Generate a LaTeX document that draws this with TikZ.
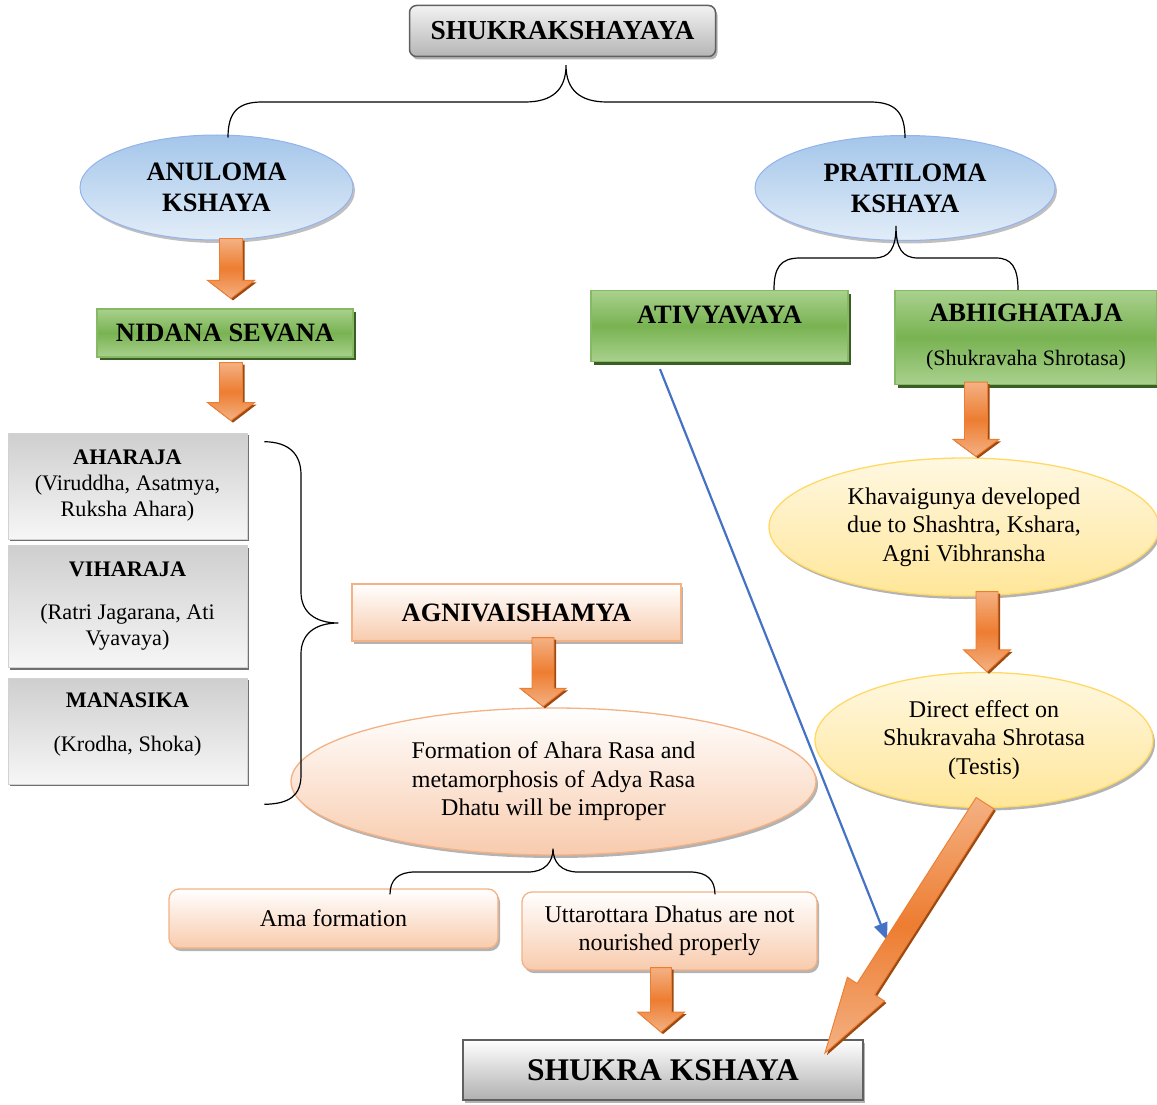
\documentclass[tikz,border=0pt]{standalone}
\usepackage{fontspec}
\setmainfont{Liberation Serif}
\usetikzlibrary{calc,shapes.geometric,shadows,arrows.meta}
\definecolor{orD}{HTML}{ED7D31}
\definecolor{orL}{HTML}{F4B183}
\definecolor{orS}{HTML}{9C4A12}
\definecolor{peach}{HTML}{F8CBAD}
\definecolor{peachB}{HTML}{F4B183}
\definecolor{gD}{HTML}{70AD47}
\definecolor{gL}{HTML}{A9D18E}
\definecolor{gS}{HTML}{3B5E25}
\definecolor{bL}{HTML}{E2EDF8}
\definecolor{bD}{HTML}{A4C6EA}
\definecolor{yL}{HTML}{FFF8E1}
\definecolor{yD}{HTML}{FFE699}
\definecolor{yB}{HTML}{FFD966}
\definecolor{blueA}{HTML}{4472C4}
\newcommand\hdrfont{\fontsize{26.5}{31}\selectfont\bfseries}
\newcommand\txtfont{\fontsize{24}{28.5}\selectfont}
\newcommand\sidefont{\fontsize{22.2}{26}\selectfont}
\newcommand\blockarr[5]{%
  \coordinate (ba-h) at ($(#2)!#5!(#1)$);
  \path[barrow] ($(#1)!#3!90:(#2)$) -- ($(ba-h)!#3!90:(#2)$) -- ($(ba-h)!#4!90:(#2)$)
     -- (#2) -- ($(ba-h)!#4!-90:(#2)$) -- ($(ba-h)!#3!-90:(#2)$) -- ($(#1)!#3!-90:(#2)$) -- cycle;
}
\begin{document}
\begin{tikzpicture}[x=1pt,y=-1pt,
  every node/.style={inner sep=0pt, align=center, text=black},
  graybox/.style={rectangle, rounded corners=7pt, draw=gray!75!black, line width=1.5pt,
     top color=gray!10, bottom color=gray!58,
     drop shadow={shadow xshift=2pt,shadow yshift=-3pt,fill=gray,opacity=.6}},
  skbox/.style={rectangle, draw=gray!75!black, line width=1.8pt,
     top color=white, bottom color=gray!62,
     drop shadow={shadow xshift=2pt,shadow yshift=-3pt,fill=gray,opacity=.6}},
  blueell/.style={ellipse, draw=bD!90!blue, line width=1pt, top color=bD, bottom color=bL,
     drop shadow={shadow xshift=2pt,shadow yshift=-3pt,fill=gray,opacity=.5}},
  greenbox/.style={rectangle, draw=gD!85!white, line width=1.2pt,
     top color=gL, bottom color=gL, middle color=gD!85!gL,
     drop shadow={shadow xshift=3pt,shadow yshift=-3pt,fill=gS,opacity=1}},
  sidebox/.style={rectangle, draw=gray!35, line width=.6pt, top color=gray!38, bottom color=gray!7,
     drop shadow={shadow xshift=2pt,shadow yshift=-2pt,fill=gray!60!black,opacity=.8}},
  peachbox/.style={rectangle, draw=peachB, line width=1.3pt, top color=white, bottom color=peach,
     drop shadow={shadow xshift=2pt,shadow yshift=-3pt,fill=gray,opacity=.6}},
  peachell/.style={ellipse, draw=peachB, line width=1.3pt, top color=white, bottom color=peach,
     drop shadow={shadow xshift=2pt,shadow yshift=-3pt,fill=gray,opacity=.6}},
  yell/.style={ellipse, draw=yB, line width=1.3pt, top color=yL, bottom color=yD,
     drop shadow={shadow xshift=2pt,shadow yshift=-3pt,fill=gray,opacity=.6}},
  barrow/.style={draw=orD, line width=.9pt, top color=orL, bottom color=orL, middle color=orD,
     drop shadow={shadow xshift=2pt,shadow yshift=-2pt,fill=orS,opacity=1}},
  brace/.style={draw=black, line width=1.2pt},
  bluearr/.style={draw=blueA, line width=2.2pt, -{Triangle[length=17pt,width=14pt]}}
]
\useasboundingbox (0,0) rectangle (1157,1105);

% nodes
\node[graybox, minimum width=306pt, minimum height=51pt, font=\fontsize{27.4}{30}\selectfont\bfseries] (top) at (562.5,31) {SHUKRAKSHAYAYA};
\node[blueell, minimum width=273pt, minimum height=105pt, font=\hdrfont] (anul) at (216.5,187.5) {ANULOMA\\KSHAYA};
\node[blueell, minimum width=300pt, minimum height=105pt, font=\hdrfont] (prat) at (905,188) {PRATILOMA\\KSHAYA};
\node[greenbox, minimum width=256pt, minimum height=48pt, font=\hdrfont] (nid) at (225,333) {NIDANA SEVANA};
\node[greenbox, minimum width=257pt, text height=33pt, text depth=38pt, font=\hdrfont] (ativ) at (719.5,326) {ATIVYAVAYA};
\node[greenbox, minimum width=262pt, minimum height=94pt, font=\fontsize{22}{25}\selectfont] (abhi) at (1026,337.5)
   {{\hdrfont ABHIGHATAJA}\\[19pt](Shukravaha Shrotasa)};
\node[sidebox, minimum width=239pt, minimum height=106pt, font=\sidefont] (ahar) at (127.5,486)
   {\textbf{AHARAJA}\\(Viruddha, Asatmya,\\Ruksha Ahara)};
\node[sidebox, minimum width=239pt, minimum height=122pt, font=\sidefont] (vihar) at (127.5,606.5)
   {\textbf{VIHARAJA}\\[17pt](Ratri Jagarana, Ati\\Vyavaya)};
\node[sidebox, minimum width=239pt, minimum height=106pt, font=\sidefont] (manas) at (127.5,731)
   {\textbf{MANASIKA}\\[18pt](Krodha, Shoka)\\[-8pt]\mbox{}};
\node[peachbox, minimum width=329pt, minimum height=57pt, font=\hdrfont] (agni) at (516.5,612.5) {AGNIVAISHAMYA};
\node[peachell, minimum width=525pt, minimum height=147pt, font=\txtfont] (form) at (553.5,781.5)
   {Formation of Ahara Rasa and\\metamorphosis of Adya Rasa\\Dhatu will be improper};
\node[peachbox, rounded corners=10pt, minimum width=329pt, minimum height=59pt, font=\txtfont] (ama) at (333.5,918.5) {Ama formation};
\node[peachbox, rounded corners=10pt, minimum width=295pt, minimum height=78pt, font=\txtfont] (utt) at (669.5,931)
   {Uttarottara Dhatus are not\\nourished properly};
\node[skbox, minimum width=400pt, minimum height=60pt, font=\fontsize{31.5}{34}\selectfont\bfseries] (sk) at (663,1070) {SHUKRA KSHAYA};
\node[yell, minimum width=390pt, minimum height=138pt, font=\txtfont] (khav) at (964,527)
   {Khavaigunya developed\\due to Shashtra, Kshara,\\Agni Vibhransha};
\node[yell, minimum width=338pt, minimum height=135pt, font=\txtfont] (dir) at (984,740)
   {Direct effect on\\Shukravaha Shrotasa\\(Testis)};

% connector end points
\coordinate (a1s) at ($(anul.south)+(14.5,-2)$);
\coordinate (a1e) at ($(nid.north)+(6,-10)$);
\coordinate (a2s) at ($(nid.south)+(6,5)$);
\coordinate (a2e) at ($(nid.south)+(6,63)$);
\coordinate (a3s) at ($(agni.south)+(26.5,-4)$);
\coordinate (a3e) at ($(form.north)+(-10.5,-1)$);
\coordinate (a4s) at ($(utt.south)+(-8.5,-3)$);
\coordinate (a4e) at ($(sk.north)+(-2,-7)$);
\coordinate (a5s) at ($(abhi.south)+(-50,-3)$);
\coordinate (a5e) at ($(khav.north)+(12,-1)$);
\coordinate (a6s) at ($(khav.south)+(23,-5)$);
\coordinate (a6e) at ($(dir.north)+(3,0)$);
\coordinate (dgs) at ($(dir.south)+(1,-5)$);
\coordinate (dge) at ($(sk.north east)+(-39,14)$);
\coordinate (bls) at ($(ativ.south)+(-59.5,7)$);
\coordinate (ble) at (887,940);

% blue arrow
\draw[bluearr] (bls) -- (ble);

% orange block arrows
\blockarr{a1s}{a1e}{11.5pt}{23.5pt}{18pt}
\blockarr{a2s}{a2e}{11.5pt}{23.5pt}{18pt}
\blockarr{a3s}{a3e}{11pt}{23pt}{18pt}
\blockarr{a4s}{a4e}{10.5pt}{23.5pt}{20pt}
\blockarr{a5s}{a5e}{11.5pt}{23pt}{17pt}
\blockarr{a6s}{a6e}{11pt}{23.5pt}{22pt}
\blockarr{dgs}{dge}{10.5pt}{22pt}{76pt}

% braces
\path[brace] ($(anul.north)+(11.5,3)$) .. controls (228,112) and (238,102) .. (262,102) -- (525,102)
   .. controls (552,102) and (566,90) .. ($(top.south)+(3.5,8)$)
   .. controls (566,90) and (580,102) .. (607,102) -- (870,102)
   .. controls (895,102) and (905,112) .. ($(prat.north)+(0,3)$);
\path[brace] ($(ativ.north)+(54.5,0)$) .. controls (774,268) and (780,258) .. (800,258) -- (874,258)
   .. controls (890,258) and (896,248) .. ($(prat.south)+(-9,-15)$)
   .. controls (896,248) and (902,258) .. (918,258) -- (996,258)
   .. controls (1012,258) and (1018,268) .. ($(abhi.north)+(-8,0)$);
\path[brace] ($(ahar.north east)+(17,9)$) .. controls (290,442) and (301,455) .. (301,475) -- (301,592)
   .. controls (301,612) and (315,623) .. ($(agni.west)+(-13,10.5)$)
   .. controls (315,623) and (301,634) .. (301,654) -- (301,775)
   .. controls (301,795) and (290,804) .. ($(manas.south east)+(17,20)$);
\path[brace] ($(ama.north)+(56.5,6)$) .. controls (390,880) and (398,872) .. (415,872) -- (528,872)
   .. controls (545,872) and (553,862) .. ($(form.south)+(-0.5,-7)$)
   .. controls (553,862) and (561,872) .. (578,872) -- (690,872)
   .. controls (707,872) and (715,880) .. ($(utt.north)+(45.5,3)$);
\end{tikzpicture}
\end{document}
